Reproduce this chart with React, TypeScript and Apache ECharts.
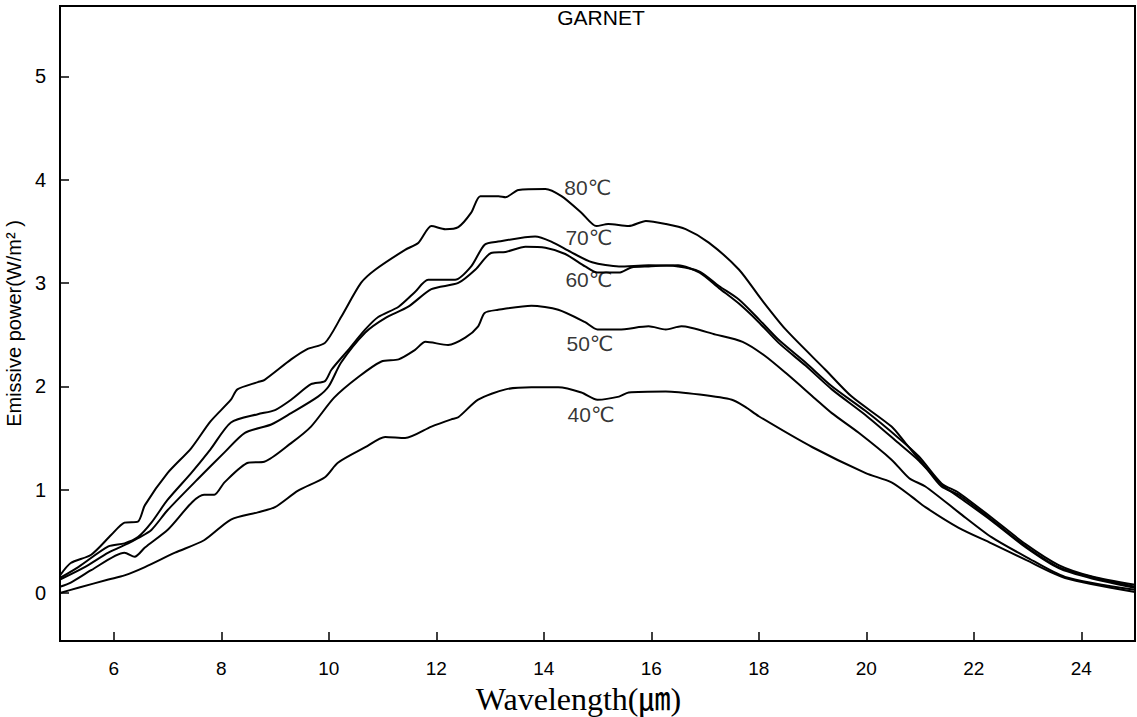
import React, { useEffect, useRef } from "react";
import * as echarts from "echarts";

// Wavelength (µm) and emissive power (W/m²)
const wl80 = [5.0, 5.2, 5.58, 5.95, 6.2, 6.45, 6.58, 7.0, 7.44, 7.8, 8.18, 8.3, 8.68, 8.8, 9.3, 9.6, 9.93, 10.23, 10.6, 10.87, 11.42, 11.67, 11.91, 12.17, 12.41, 12.65, 12.82, 13.16, 13.29, 13.53, 14.03, 14.33, 14.7, 14.98, 15.2, 15.58, 15.9, 16.27, 16.64, 17.07, 17.63, 18.05, 18.5, 19.24, 19.73, 20.47, 20.73, 21.1, 21.4, 21.72, 22.33, 22.97, 23.58, 24.2, 25.0];
const ep80 = [0.17, 0.29, 0.37, 0.56, 0.68, 0.69, 0.85, 1.16, 1.4, 1.66, 1.87, 1.97, 2.04, 2.06, 2.26, 2.36, 2.42, 2.67, 3.0, 3.13, 3.32, 3.39, 3.55, 3.52, 3.54, 3.68, 3.84, 3.84, 3.83, 3.9, 3.91, 3.84, 3.68, 3.55, 3.57, 3.55, 3.6, 3.57, 3.52, 3.39, 3.13, 2.84, 2.55, 2.16, 1.9, 1.61, 1.45, 1.22, 1.03, 0.95, 0.71, 0.45, 0.25, 0.155, 0.06];

const wl70 = [5.0, 5.34, 5.9, 6.2, 6.45, 6.7, 7.0, 7.44, 7.8, 8.18, 8.68, 9.0, 9.3, 9.67, 9.93, 10.05, 10.36, 10.68, 10.92, 11.3, 11.6, 11.85, 12.35, 12.65, 12.9, 13.15, 13.84, 14.14, 14.5, 14.9, 15.4, 15.95, 16.5, 16.9, 17.26, 17.63, 18.0, 18.37, 18.87, 19.36, 19.99, 20.6, 20.98, 21.4, 21.72, 22.33, 22.97, 23.58, 24.2, 25.0];
const ep70 = [0.145, 0.25, 0.45, 0.48, 0.54, 0.68, 0.9, 1.16, 1.39, 1.65, 1.73, 1.77, 1.87, 2.02, 2.05, 2.16, 2.35, 2.55, 2.67, 2.77, 2.91, 3.03, 3.03, 3.16, 3.37, 3.4, 3.45, 3.4, 3.3, 3.2, 3.16, 3.17, 3.16, 3.11, 2.97, 2.84, 2.65, 2.45, 2.23, 2.0, 1.76, 1.5, 1.32, 1.06, 0.97, 0.73, 0.47, 0.27, 0.16, 0.08];

const wl60 = [5.0, 5.46, 5.9, 6.27, 6.45, 6.7, 7.0, 7.56, 8.06, 8.44, 8.93, 9.3, 9.8, 10.0, 10.23, 10.68, 11.05, 11.48, 11.91, 12.41, 12.73, 13.02, 13.29, 13.66, 14.03, 14.4, 14.77, 15.0, 15.4, 15.63, 15.95, 16.5, 16.9, 17.26, 17.63, 18.0, 18.37, 18.87, 19.36, 19.99, 20.6, 20.98, 21.4, 21.72, 22.33, 22.97, 23.58, 24.2, 25.0];
const ep60 = [0.13, 0.25, 0.39, 0.48, 0.53, 0.61, 0.8, 1.1, 1.36, 1.55, 1.63, 1.74, 1.9, 2.0, 2.23, 2.52, 2.66, 2.77, 2.94, 3.0, 3.13, 3.29, 3.3, 3.35, 3.34, 3.28, 3.16, 3.1, 3.1, 3.15, 3.16, 3.17, 3.1, 2.95, 2.8, 2.62, 2.42, 2.2, 1.97, 1.72, 1.45, 1.28, 1.05, 0.93, 0.7, 0.44, 0.24, 0.14, 0.05];

const wl50 = [5.0, 5.2, 5.58, 6.2, 6.39, 6.58, 7.0, 7.68, 7.87, 8.06, 8.5, 8.8, 9.3, 9.67, 10.1, 10.55, 10.98, 11.3, 11.6, 11.8, 12.22, 12.54, 12.78, 12.9, 13.15, 13.77, 14.27, 14.77, 15.0, 15.4, 15.95, 16.27, 16.56, 17.2, 17.7, 18.1, 18.5, 19.05, 19.36, 19.86, 20.47, 20.8, 21.1, 21.72, 22.33, 22.97, 23.7, 25.0];
const ep50 = [0.06, 0.1, 0.22, 0.39, 0.35, 0.44, 0.61, 0.95, 0.95, 1.07, 1.26, 1.27, 1.45, 1.61, 1.89, 2.09, 2.24, 2.26, 2.35, 2.43, 2.4, 2.47, 2.58, 2.71, 2.74, 2.78, 2.74, 2.62, 2.55, 2.55, 2.58, 2.55, 2.58, 2.5, 2.43, 2.3, 2.13, 1.88, 1.74, 1.55, 1.29, 1.11, 1.03, 0.78, 0.54, 0.35, 0.155, 0.03];

const wl40 = [5.0, 5.34, 5.9, 6.2, 6.58, 7.14, 7.68, 8.18, 8.68, 9.0, 9.43, 9.93, 10.17, 10.68, 11.05, 11.42, 11.91, 12.28, 12.41, 12.78, 13.29, 13.77, 14.27, 14.7, 15.0, 15.4, 15.58, 16.27, 16.9, 17.5, 17.75, 18.0, 19.0, 19.99, 20.47, 20.85, 21.1, 21.72, 22.33, 22.97, 23.7, 25.0];
const ep40 = [0.0, 0.05, 0.13, 0.17, 0.25, 0.39, 0.51, 0.71, 0.78, 0.83, 0.99, 1.12, 1.26, 1.41, 1.51, 1.5, 1.61, 1.68, 1.7, 1.87, 1.97, 1.99, 1.99, 1.94, 1.87, 1.9, 1.94, 1.95, 1.92, 1.87, 1.8, 1.71, 1.41, 1.16, 1.07, 0.93, 0.83, 0.63, 0.48, 0.32, 0.145, 0.01];

const seriesNames = ["80℃", "70℃", "60℃", "50℃", "40℃"];
const labelX = [14.82, 14.84, 14.84, 14.86, 14.88];
const labelY = [3.92, 3.435, 3.03, 2.41, 1.73];

const xTicks = [6, 8, 10, 12, 14, 16, 18, 20, 22, 24];
const yTicks = [0, 1, 2, 3, 4, 5];

const zip = (xs: number[], ys: number[]) => xs.map((x, i) => [x, ys[i]]);

export default function App() {
  const ref = useRef<HTMLDivElement>(null);
  useEffect(() => {
    if (!ref.current) return;
    const chart = echarts.init(ref.current, undefined, { renderer: "svg" });
    const curves = [
      zip(wl80, ep80),
      zip(wl70, ep70),
      zip(wl60, ep60),
      zip(wl50, ep50),
      zip(wl40, ep40),
    ];
    const lineSeries = curves.map((d, i) => ({
      name: seriesNames[i],
      type: "line",
      data: d,
      showSymbol: false,
      smooth: 0.25,
      lineStyle: { color: "#000", width: 2 },
      z: 3,
    }));
    chart.setOption({
      animation: false,
      backgroundColor: "#fff",
      textStyle: { fontFamily: "'Liberation Sans', Arial, sans-serif" },
      grid: {
        left: 60,
        top: 6,
        right: 2,
        bottom: 76,
        containLabel: false,
        outerBoundsMode: "none",
        show: true,
        borderColor: "#000",
        borderWidth: 2,
        backgroundColor: "transparent",
      },
      graphic: [
        {
          type: "text",
          x: 601,
          y: 28,
          style: {
            text: "GARNET",
            fill: "#000",
            font: "21px 'Liberation Sans', Arial, sans-serif",
            textAlign: "center",
            textVerticalAlign: "bottom",
          },
        },
      ],
      xAxis: {
        type: "value",
        min: 5,
        max: 25,
        name: "Wavelength(㎛)",
        nameLocation: "middle",
        nameGap: 40,
        nameTextStyle: {
          fontFamily: "'Liberation Serif', 'Times New Roman', 'Noto Sans CJK JP', serif",
          fontSize: 32,
          color: "#000",
          padding: [0, 38, 0, 0],
        },
        axisLine: { show: true, onZero: false, lineStyle: { color: "#000", width: 2 } },
        axisTick: {
          show: true,
          inside: true,
          length: 9,
          customValues: xTicks,
          lineStyle: { color: "#000", width: 1.5 },
        },
        axisLabel: {
          customValues: xTicks,
          margin: 18,
          fontSize: 19,
          color: "#000",
        },
        splitLine: { show: false },
      },
      yAxis: {
        type: "value",
        min: -0.465,
        max: 5.68,
        name: "Emissive power(W/m² )",
        nameLocation: "middle",
        nameRotate: 90,
        nameGap: 26,
        nameTextStyle: { fontSize: 20, color: "#000" },
        axisLine: { show: true, onZero: false, lineStyle: { color: "#000", width: 2 } },
        axisTick: {
          show: true,
          inside: true,
          length: 9,
          customValues: yTicks,
          lineStyle: { color: "#000", width: 1.5 },
        },
        axisLabel: {
          customValues: yTicks,
          margin: 14,
          fontSize: 20,
          color: "#000",
        },
        splitLine: { show: false },
      },
      series: [
        ...lineSeries,
        {
          type: "scatter",
          symbolSize: 0,
          silent: true,
          data: labelX.map((x, i) => [x, labelY[i], seriesNames[i]]),
          label: {
            show: true,
            position: "inside",
            formatter: (p: any) => p.value[2],
            color: "#000",
            fontSize: 21,
            fontFamily: "'Liberation Sans', 'DejaVu Sans', 'Noto Sans CJK JP', sans-serif",
          },
          z: 5,
        },
      ],
    });
    return () => chart.dispose();
  }, []);
  return (
    <div
      ref={ref}
      style={{ position: "fixed", left: 0, top: 0, width: 1137, height: 717, background: "#fff" }}
    />
  );
}
